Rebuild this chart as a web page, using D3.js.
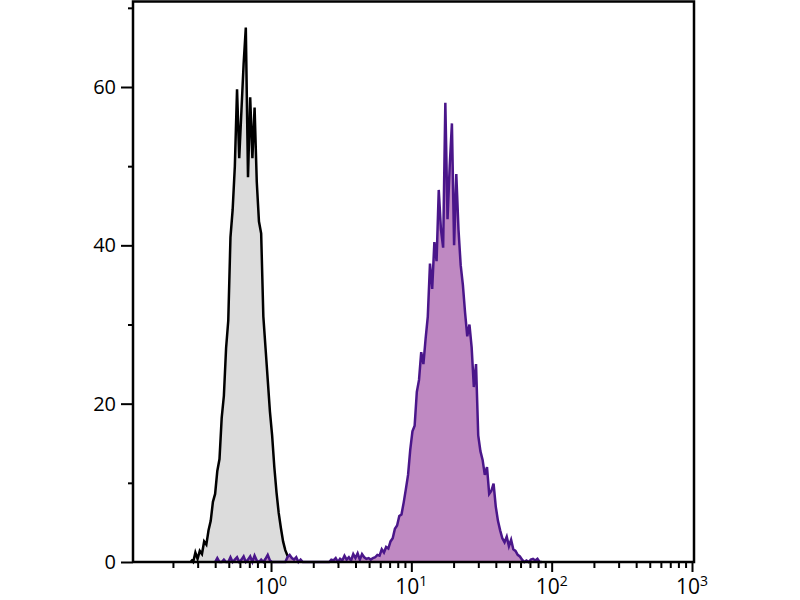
<!DOCTYPE html>
<html>
<head>
<meta charset="utf-8">
<script src="https://cdn.jsdelivr.net/npm/d3@7"></script>
<style>
  body { margin: 0; background: #fff; }
  svg { display: block; }
  .axis text { font-family: "Open Sans", sans-serif; }
</style>
</head>
<body>
<div id="chart"></div>
<script>
// histogram channels: 64 per decade, starting at 0.1
const channelsPerDecade = 64;
const channelStart = 0.1;

// control (isotype) histogram, counts per channel from channel 27
const grayFirstChannel = 27;
const grayCounts = [
  0.3, 0, 1.2, 0.4, 1.4, 1.0, 2.6, 2.2, 4.0, 5.2,
  7.6, 8.6, 11.5, 13.0, 18.2, 21.0, 27.0, 30.5, 41.0, 44.5,
  50.0, 59.7, 51.0, 57.0, 62.9, 67.5, 48.6, 58.7, 51.0, 57.4,
  48.0, 43.0, 41.5, 31.0, 27.0, 23.0, 19.0, 16.0, 12.0, 8.8,
  6.2, 4.3, 2.6, 1.5, 0.8, 0.4, 0
];

// stained sample histogram, counts per channel from channel 38
const purpleFirstChannel = 38;
const purpleCounts = [
  0, 0.5, 0, 0, 0.3, 0, 0, 0.6, 0, 0.3,
  0.6, 0, 0.3, 0.7, 0, 0.3, 0.7, 0, 0.8, 0.2,
  0, 0.3, 0, 0.4, 0.9, 0.2, 0, 0, 0, 0,
  0, 0, 0, 0.6, 0.9, 0.5, 0.3, 0.6, 0, 0.3,
  0, 0, 0, 0, 0, 0, 0, 0, 0, 0,
  0, 0, 0, 0.3, 0.2, 0.5, 0, 0.4, 0.2, 0.8,
  0.3, 0.6, 0.2, 1.0, 0.5, 1.1, 0.3, 1.0, 0.6, 0.4,
  0.5, 0.3, 0.5, 0.6, 0.9, 0.8, 1.6, 1.2, 1.9, 1.7,
  2.6, 3.0, 4.2, 4.6, 5.8, 6.0, 7.5, 9.2, 11.0, 14.2,
  16.5, 17.2, 21.5, 23.0, 26.5, 25.0, 28.2, 31.0, 37.7, 34.5,
  40.4, 38.0, 47.0, 42.0, 39.7, 58.0, 43.3, 50.0, 55.4, 40.0,
  49.0, 42.0, 37.5, 35.0, 31.5, 28.5, 30.0, 27.1, 22.1, 25.0,
  16.0, 14.0, 12.9, 11.0, 12.0, 8.6, 9.0, 9.9, 7.0, 5.2,
  4.0, 3.0, 2.5, 3.2, 2.0, 2.8, 1.6, 1.4, 0.9, 0.7,
  0.3, 0, 0.2, 0, 0.3, 0.4, 0.2, 0.4, 0, 0
];

const yMajor = [0, 20, 40, 60];
const yMinor = [10, 30, 50, 70];
const xMajor = [1, 10, 100, 1000];
const xExponents = ['0', '1', '2', '3'];

const width = 800;
const height = 600;

const svg = d3.select('#chart')
  .append('svg')
  .attr('width', width)
  .attr('height', height);

const x = d3.scaleLog()
  .domain([0.1, 1000])
  .range([130.7, 692]);

const y = d3.scaleLinear()
  .domain([0, 70.8])
  .range([562, 1.5]);

function toPoints(first, counts) {
  return counts.map((c, i) => ({
    v: channelStart * Math.pow(10, (first + i + 0.5) / channelsPerDecade),
    c: c
  }));
}

const area = d3.area()
  .x(d => x(d.v))
  .y0(y(0))
  .y1(d => y(d.c));

const line = d3.line()
  .x(d => x(d.v))
  .y(d => y(d.c));

const plot = svg.append('g');

const grayPts = toPoints(grayFirstChannel, grayCounts);
const purplePts = toPoints(purpleFirstChannel, purpleCounts);

plot.append('path')
  .attr('d', area(grayPts))
  .attr('fill', '#dcdcdc');
plot.append('path')
  .attr('d', line(grayPts))
  .attr('fill', 'none')
  .attr('stroke', '#000')
  .attr('stroke-width', 2.5);

plot.append('path')
  .attr('d', area(purplePts))
  .attr('fill', '#bf89c2');
plot.append('path')
  .attr('d', line(purplePts))
  .attr('fill', 'none')
  .attr('stroke', '#4a168a')
  .attr('stroke-width', 2.5);

// axes
const yAxisMajor = svg.append('g')
  .attr('class', 'axis')
  .attr('transform', 'translate(133,0)')
  .call(d3.axisLeft(y).tickValues(yMajor).tickSize(12).tickPadding(5));
yAxisMajor.selectAll('text')
  .attr('font-size', 20)
  .style('font-size', '20px')
  .attr('fill', '#000');

svg.append('g')
  .attr('class', 'axis')
  .attr('transform', 'translate(133,0)')
  .call(d3.axisLeft(y).tickValues(yMinor).tickSize(5).tickFormat(''));

const xMinor = x.ticks().filter(t => !xMajor.includes(t) && t > 0.1);

svg.append('g')
  .attr('class', 'axis')
  .attr('transform', 'translate(0,562)')
  .call(d3.axisBottom(x).tickValues(xMajor).tickSize(10).tickFormat(''));

svg.append('g')
  .attr('class', 'axis')
  .attr('transform', 'translate(0,562)')
  .call(d3.axisBottom(x).tickValues(xMinor).tickSize(6).tickFormat(''));

svg.selectAll('.axis .domain').remove();
svg.selectAll('.axis line').attr('stroke', '#000').attr('stroke-width', 2);

// x labels as 10 with superscript exponent
const xLab = svg.append('g').attr('class', 'axis');
xMajor.forEach((v, i) => {
  const t = xLab.append('text')
    .attr('x', x(v))
    .attr('y', 594)
    .attr('text-anchor', 'middle')
    .attr('fill', '#000')
    .style('font-size', '21px');
  t.append('tspan').text('10');
  t.append('tspan')
    .attr('dy', -8)
    .style('font-size', '14px')
    .text(xExponents[i]);
});

// frame
svg.append('path')
  .attr('d', `M${133},${562}V${y.range()[1]}H${694}V${562}H${133}`)
  .attr('fill', 'none')
  .attr('stroke', '#000')
  .attr('stroke-width', 2.5);
</script>
</body>
</html>
